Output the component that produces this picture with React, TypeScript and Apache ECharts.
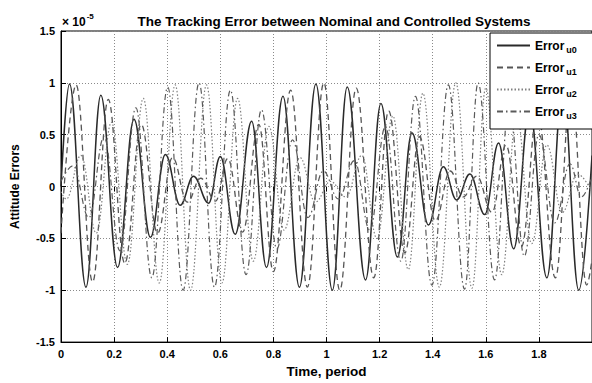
import React, { useEffect, useRef } from "react";
import * as echarts from "echarts";

const titleText = "The Tracking Error between Nominal and Controlled Systems";
const xName = "Time, period";
const yName = "Attitude Errors";
const seriesNames = ["u0", "u1", "u2", "u3"];

// Error_u0 (solid): times of extrema and values (x 1e-5)
const u0T = [0, 0.032, 0.094, 0.15, 0.213, 0.275, 0.337, 0.393, 0.449, 0.499, 0.556, 0.6, 0.656, 0.718, 0.774, 0.836, 0.898, 0.96, 1.022, 1.078, 1.147, 1.205, 1.267, 1.322, 1.384, 1.44, 1.49, 1.54, 1.596, 1.648, 1.705, 1.765, 1.83, 1.89, 1.95, 2.0];
const u0V = [0, 0.99, -0.97, 0.88, -0.78, 0.65, -0.49, 0.31, -0.18, 0.1, -0.16, 0.29, -0.46, 0.63, -0.78, 0.87, -0.97, 0.99, -1.0, 0.96, -0.9, 0.8, -0.68, 0.52, -0.37, 0.19, -0.13, 0.12, -0.27, 0.42, -0.6, 0.75, -0.88, 0.96, -1.0, 0.3];

// Error_u1 (dashed)
const u1T = [0, 0.057, 0.119, 0.178, 0.24, 0.302, 0.364, 0.42, 0.476, 0.526, 0.582, 0.628, 0.684, 0.745, 0.8, 0.865, 0.928, 0.99, 1.05, 1.112, 1.178, 1.234, 1.295, 1.35, 1.41, 1.466, 1.515, 1.566, 1.623, 1.676, 1.734, 1.795, 1.862, 1.922, 1.98, 2.0];
const u1V = [-0.45, 0.98, -0.92, 0.84, -0.74, 0.6, -0.45, 0.28, -0.15, 0.08, -0.14, 0.27, -0.44, 0.6, -0.82, 0.93, -0.97, 1.0, -1.0, 0.95, -0.88, 0.73, -0.64, 0.48, -0.33, 0.15, -0.1, 0.1, -0.25, 0.4, -0.58, 0.72, -0.88, 0.95, -0.95, -0.7];

// Error_u2 (dotted)
const u2T = [0, 0.02, 0.075, 0.133, 0.19, 0.25, 0.31, 0.37, 0.43, 0.488, 0.548, 0.606, 0.665, 0.724, 0.783, 0.84, 0.9, 0.958, 1.015, 1.073, 1.133, 1.19, 1.25, 1.308, 1.363, 1.425, 1.487, 1.548, 1.6, 1.66, 1.716, 1.773, 1.83, 1.888, 1.945, 2.0];
const u2V = [-0.05, -0.12, 0.3, -0.45, 0.62, -0.75, 0.85, -0.93, 0.98, -1.0, 0.98, -0.93, 0.85, -0.72, 0.58, -0.42, 0.28, -0.15, 0.05, -0.1, 0.3, -0.5, 0.68, -0.8, 0.9, -0.97, 1.0, -0.98, 0.95, -0.85, 0.7, -0.55, 0.4, -0.25, 0.12, -0.05];

// Error_u3 (dash-dot)
const u3T = [0, 0.045, 0.105, 0.162, 0.222, 0.282, 0.342, 0.402, 0.46, 0.52, 0.578, 0.638, 0.697, 0.755, 0.813, 0.872, 0.93, 0.988, 1.045, 1.105, 1.163, 1.222, 1.28, 1.335, 1.397, 1.459, 1.52, 1.571, 1.633, 1.688, 1.745, 1.8, 1.86, 1.917, 1.96, 2.0];
const u3V = [0.05, 0.2, -0.3, 0.48, -0.62, 0.76, -0.88, 0.96, -1.0, 1.0, -0.97, 0.93, -0.85, 0.74, -0.6, 0.45, -0.3, 0.15, -0.12, 0.25, -0.42, 0.58, -0.72, 0.87, -0.95, 0.98, -0.99, 1.0, -0.9, 0.8, -0.67, 0.5, -0.35, 0.22, -0.1, 0.1];

const FONT = "'Liberation Sans', Arial, sans-serif";

const pairs = (t: number[], v: number[]) => t.map((x, i) => [x, v[i]]);

export default function App() {
  const ref = useRef<HTMLDivElement>(null);
  useEffect(() => {
    const chart = echarts.init(ref.current!, null, { renderer: "svg" });
    const lineStyles = [
      { color: "#2a2a2a", width: 1.5, type: "solid" },
      { color: "#555555", width: 1.3, type: [6, 4] },
      { color: "#808080", width: 1.2, type: [1.5, 2] },
      { color: "#5a5a5a", width: 1.2, type: [6, 3, 1.5, 3] },
    ];
    const datas = [pairs(u0T, u0V), pairs(u1T, u1V), pairs(u2T, u2V), pairs(u3T, u3V)];
    chart.setOption({
      animation: false,
      backgroundColor: "#fff",
      textStyle: { fontFamily: FONT },
      title: {
        text: titleText,
        left: 329,
        top: 9,
        textAlign: "center",
        textStyle: { fontFamily: FONT, fontSize: 13.5, fontWeight: "bold", color: "#000" },
      },
      grid: {
        left: 61,
        top: 31,
        right: -5,
        bottom: 37,
        show: true,
        borderColor: "#000",
        borderWidth: 1,
        backgroundColor: "transparent",
      },
      legend: {
        data: seriesNames,
        orient: "vertical",
        left: 490,
        top: 33,
        itemWidth: 33,
        itemHeight: 10,
        itemGap: 5,
        padding: [4, 40, 9, 6],
        backgroundColor: "#fff",
        borderColor: "#000",
        borderWidth: 1,
        z: 10,
        itemStyle: { opacity: 0 },
        formatter: (n: string) => `{a|Error}{b|${n}}`,
        textStyle: {
          rich: {
            a: { fontFamily: FONT, fontSize: 12, fontWeight: "bold", color: "#000", lineHeight: 14 },
            b: { fontFamily: FONT, fontSize: 9, fontWeight: "bold", color: "#000", padding: [8, 0, 0, 2], lineHeight: 14 },
          },
        },
      },
      graphic: [
        {
          type: "text",
          x: 62,
          y: 11,
          style: {
            text: "{a|× 10}{b|-5}",
            rich: {
              a: { fontFamily: FONT, fontSize: 12, fontWeight: "bold", fill: "#000", padding: [5, 0, 0, 0] },
              b: { fontFamily: FONT, fontSize: 8, fontWeight: "bold", fill: "#000", padding: [0, 0, 7, 1] },
            },
          },
        },
      ],
      xAxis: [
        {
          type: "value",
          min: 0,
          max: 2,
          interval: 0.2,
          name: xName,
          nameLocation: "middle",
          nameGap: 20,
          nameTextStyle: { fontFamily: FONT, fontSize: 13.5, fontWeight: "bold", color: "#000" },
          axisLine: { show: true, onZero: false, lineStyle: { color: "#000", width: 1 } },
          axisTick: { show: true, inside: true, length: 5, lineStyle: { color: "#000" } },
          axisLabel: {
            fontFamily: FONT,
            fontSize: 11,
            fontWeight: "bold",
            color: "#000",
            margin: 6,
            showMaxLabel: false,
            formatter: (v: number) => String(Math.round(v * 10) / 10),
          },
          splitLine: { show: true, lineStyle: { color: "#8a8a8a", width: 1, type: [1, 2] } },
        },
        {
          type: "value",
          position: "top",
          min: 0,
          max: 2,
          interval: 0.2,
          axisLine: { show: false },
          axisTick: { show: true, inside: true, length: 5, lineStyle: { color: "#000" } },
          axisLabel: { show: false },
          splitLine: { show: false },
        },
      ],
      yAxis: {
        type: "value",
        min: -1.5,
        max: 1.5,
        interval: 0.5,
        name: yName,
        nameLocation: "middle",
        nameGap: 40,
        nameTextStyle: { fontFamily: FONT, fontSize: 12, fontWeight: "bold", color: "#000" },
        axisLine: { show: true, lineStyle: { color: "#000", width: 1 } },
        axisTick: { show: true, inside: true, length: 5, lineStyle: { color: "#000" } },
        axisLabel: { fontFamily: FONT, fontSize: 11, fontWeight: "bold", color: "#000", margin: 6 },
        splitLine: { show: true, lineStyle: { color: "#8a8a8a", width: 1, type: [1, 2] } },
      },
      series: seriesNames.map((name, i) => ({
        name,
        type: "line",
        xAxisIndex: 0,
        data: datas[i],
        symbol: "none",
        showSymbol: false,
        smooth: 0.4,
        smoothMonotone: "x",
        lineStyle: lineStyles[i],
        itemStyle: { color: lineStyles[i].color },
        z: 2 + i,
      })),
    });
    return () => chart.dispose();
  }, []);
  return <div ref={ref} style={{ position: "fixed", left: 0, top: 0, width: 592, height: 383 }} />;
}
